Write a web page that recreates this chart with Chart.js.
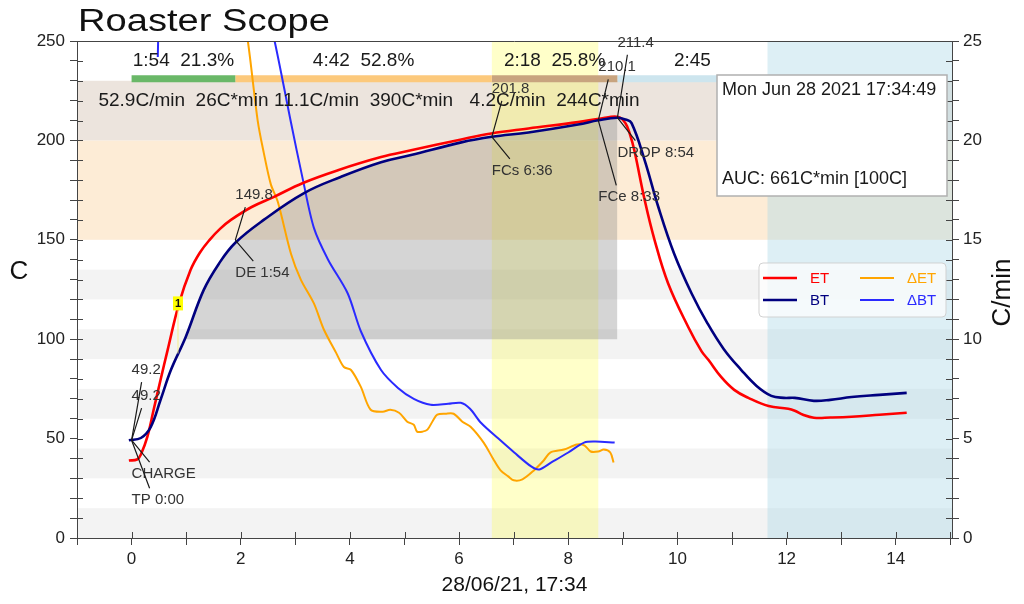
<!DOCTYPE html>
<html>
<head>
<meta charset="utf-8">
<script src="https://cdn.jsdelivr.net/npm/chart.js@4.4.0/dist/chart.umd.min.js"></script>
<style>
  html, body { margin: 0; padding: 0; background: #fff; }
  #wrap { width: 1024px; height: 604px; }
</style>
</head>
<body>
<div id="wrap"><canvas id="scope" width="1024" height="604"></canvas></div>
<script>
// roast curves, time in minutes after CHARGE
const etTimes = [-0.05, 0.1, 0.17, 0.29, 0.4, 0.53, 0.66, 0.87, 1.08, 1.25, 1.43, 1.62, 1.82, 2.2, 2.6, 3.14, 3.78, 4.57, 5.12, 6.04, 6.59, 7.27, 8.18, 8.6, 8.92, 9.05, 9.13, 9.21, 9.4, 9.58, 9.83, 10.2, 10.44, 10.57, 10.8, 11.04, 11.3, 11.67, 12.03, 12.15, 12.3, 12.5, 12.8, 13.19, 13.7, 14.2];
const etTemps = [39, 39.5, 42, 51, 64, 79.5, 94.5, 118, 134.8, 143.5, 150, 155.5, 160, 166.5, 171.5, 178.6, 185, 191.6, 195, 200.5, 203.5, 206, 209.2, 211, 211.8, 208.5, 203, 195, 170, 150, 128, 106, 94, 89.5, 81, 74.5, 70.5, 66.4, 65, 64, 62, 60.5, 60.6, 61, 62, 63];

const btTimes = [-0.05, 0.17, 0.35, 0.53, 0.72, 0.99, 1.32, 1.6, 1.9, 2.42, 3.16, 3.83, 4.57, 5.12, 6.04, 6.6, 7.27, 8.18, 8.55, 8.9, 9.05, 9.16, 9.4, 9.65, 9.94, 10.26, 10.55, 10.85, 11.17, 11.45, 11.72, 11.95, 12.15, 12.5, 12.8, 13.19, 13.7, 14.2];
const btTemps = [49.2, 50.3, 55.8, 69.4, 84.5, 101, 124.7, 138, 148.5, 160, 173.5, 181.6, 189, 192.6, 199, 201.8, 204, 208, 210.1, 211.4, 210.5, 208.7, 190, 166.5, 143, 123, 108, 95, 84.5, 76.5, 71.5, 70.5, 70.5, 69, 69.5, 70.9, 72, 73];

const dEtTimes = [0.5, 1.0, 1.6, 2.0, 2.13, 2.31, 2.42, 2.55, 2.68, 2.92, 3.1, 3.34, 3.52, 3.75, 3.89, 4.02, 4.2, 4.38, 4.6, 4.74, 4.9, 5.05, 5.17, 5.23, 5.33, 5.42, 5.52, 5.6, 5.75, 5.9, 6.06, 6.21, 6.45, 6.62, 6.76, 6.9, 7.0, 7.16, 7.37, 7.55, 7.67, 7.92, 8.16, 8.3, 8.41, 8.55, 8.65, 8.77, 8.83];
const dEtValues = [40, 45, 33, 27, 25, 21, 19.4, 17.8, 16.9, 14.3, 13, 11.8, 10.5, 9.3, 8.6, 8.45, 7.6, 6.45, 6.35, 6.45, 6.3, 5.85, 5.7, 5.35, 5.35, 5.45, 5.9, 6.2, 6.25, 6.25, 5.85, 5.6, 4.8, 4.0, 3.4, 3.1, 2.9, 2.95, 3.4, 3.9, 4.3, 4.45, 4.7, 4.65, 4.35, 4.35, 4.45, 4.3, 3.8];

const dBtTimes = [0.48, 0.53, 0.8, 1.4, 2.2, 2.62, 2.92, 3.14, 3.34, 3.6, 3.96, 4.2, 4.57, 4.88, 5.17, 5.48, 5.8, 6.03, 6.2, 6.4, 6.72, 7.01, 7.32, 7.47, 7.69, 8.0, 8.29, 8.5, 8.85];
const dBtValues = [24.2, 30, 50, 45, 30, 25, 20.9, 18, 15.6, 14, 12.3, 10.4, 8.45, 7.55, 7.0, 6.7, 6.75, 6.8, 6.5, 5.8, 5.0, 4.3, 3.6, 3.45, 3.8, 4.3, 4.8, 4.85, 4.8];

// roast events
const eventLabels = ['CHARGE', 'TP 0:00', 'DE 1:54', 'FCs 6:36', 'FCe 8:33', 'DROP 8:54'];
const eventTimes = [0, 0, 1.9, 6.6, 8.55, 8.9];
const eventTemps = [49.2, 49.2, 149.8, 201.8, 210.1, 211.4];

const specialEventLabels = ['1'];
const specialEventTimes = [0.85];
const specialEventTemps = [118];

// phases: drying, maillard, development, cooling
const phaseStarts = [0, 1.9, 6.6, 8.9];
const phaseEnds = [1.9, 6.6, 8.9, 11.65];
const phaseTimeLabels = ['1:54  21.3%', '4:42  52.8%', '2:18  25.8%', '2:45'];
const phaseRateLabels = ['52.9C/min  26C*min', '11.1C/min  390C*min', '4.2C/min  244C*min', ''];

const fcWindow = [6.6, 8.55];
const coolStart = 11.65;
const tempBands = [[0, 15], [30, 45], [60, 75], [90, 105], [120, 135]];
const maillardZone = [150, 200];
const finishZone = [200, 230];
const aucBase = 100;

const roastDate = 'Mon Jun 28 2021 17:34:49';
const aucText = 'AUC: 661C*min [100C]';

// ---- styling ----
const FONT = '"Liberation Sans", Arial, sans-serif';
const BAR_LEVEL = 231;
const TOP_LABEL_LEVEL = 240;
const RATE_LABEL_LEVEL = 220;
const phaseColors = ['#6ab868', '#fcc97c', '#c8a47f', '#cde5ee'];
// pixel offsets of [temperature label, event label] from each event point
const annoOffsets = [[-44, 34], [-70, 60], [-45, 33], [-48, 34], [-53, 77], [-75, 35]];

Chart.defaults.font.family = FONT;
Chart.defaults.font.size = 17;
Chart.defaults.color = '#222';

const pts = (xs, ys) => xs.map((x, i) => ({ x, y: ys[i] }));
const btPts = pts(btTimes, btTemps);
const aucStart = btTimes[btTemps.findIndex(v => v >= aucBase)];
const dropTime = eventTimes[5];
const aucPts = btPts.filter(p => p.x >= aucStart && p.x <= dropTime);

const curve = (label, data, color, width, axis, order, tension) => ({
  label, data, borderColor: color, backgroundColor: color, borderWidth: width,
  pointRadius: 0, tension, yAxisID: axis, order, clip: 0, fill: false, isCurve: true
});

const datasets = [
  curve('ET', pts(etTimes, etTemps), '#ff0000', 2.6, 'y', 1, 0.4),
  curve('BT', btPts, '#00007f', 2.6, 'y', 0, 0.4),
  curve('\u0394ET', pts(dEtTimes, dEtValues), '#ffa500', 2, 'y2', 3, 0.3),
  curve('\u0394BT', pts(dBtTimes, dBtValues), '#2a2aff', 2, 'y2', 2, 0.3),
  {
    label: 'AUC', data: aucPts, borderWidth: 0, pointRadius: 0, yAxisID: 'y',
    tension: 0.4, fill: { value: aucBase },
    backgroundColor: 'rgba(128,128,128,0.33)', order: 6
  }
];
phaseStarts.forEach((s, i) => {
  datasets.push({
    label: 'phase' + i,
    data: [{ x: s, y: BAR_LEVEL }, { x: phaseEnds[i], y: BAR_LEVEL }],
    borderColor: phaseColors[i], borderWidth: 7, borderCapStyle: 'butt',
    pointRadius: 0, yAxisID: 'y', order: 5, fill: false
  });
});

const backdrop = {
  id: 'backdrop',
  beforeDraw(chart) {
    const { ctx, chartArea: a } = chart;
    const x = chart.scales.x, y = chart.scales.y;
    const band = (lo, hi) => {
      const top = y.getPixelForValue(hi);
      ctx.fillRect(a.left, top, a.width, y.getPixelForValue(lo) - top);
    };
    ctx.save();
    ctx.fillStyle = '#f3f3f3';
    tempBands.forEach(([lo, hi]) => band(lo, hi));
    ctx.fillStyle = '#fdecd6';
    band(maillardZone[0], maillardZone[1]);
    ctx.fillStyle = '#ece4dd';
    band(finishZone[0], finishZone[1]);
    ctx.fillStyle = 'rgba(255,255,60,0.28)';
    const f0 = x.getPixelForValue(fcWindow[0]), f1 = x.getPixelForValue(fcWindow[1]);
    ctx.fillRect(f0, a.top, f1 - f0, a.height);
    ctx.fillStyle = 'rgba(173,216,230,0.42)';
    const c0 = x.getPixelForValue(coolStart);
    ctx.fillRect(c0, a.top, a.right - c0, a.height);
    ctx.restore();
  }
};

const overlay = {
  id: 'overlay',
  afterDraw(chart) {
    const { ctx, chartArea: a } = chart;
    const x = chart.scales.x, y = chart.scales.y, y2 = chart.scales.y2;
    ctx.save();

    // inward half of the tick marks and the top frame line
    ctx.strokeStyle = '#444';
    ctx.lineWidth = 1;
    ctx.beginPath();
    x.ticks.forEach(t => { const p = Math.round(x.getPixelForValue(t.value)) + 0.5; ctx.moveTo(p, a.bottom); ctx.lineTo(p, a.bottom - 6); });
    y.ticks.forEach(t => { const p = Math.round(y.getPixelForValue(t.value)) + 0.5; ctx.moveTo(a.left, p); ctx.lineTo(a.left + 6, p); });
    y2.ticks.forEach(t => { const p = Math.round(y2.getPixelForValue(t.value)) + 0.5; ctx.moveTo(a.right, p); ctx.lineTo(a.right - 6, p); });
    ctx.moveTo(a.left, Math.round(a.top) + 0.5);
    ctx.lineTo(a.right, Math.round(a.top) + 0.5);
    ctx.stroke();

    // phase texts
    ctx.fillStyle = '#1a1a1a';
    ctx.font = '19px ' + FONT;
    ctx.textAlign = 'center';
    ctx.textBaseline = 'middle';
    phaseStarts.forEach((s, i) => {
      const cx = (x.getPixelForValue(s) + x.getPixelForValue(phaseEnds[i])) / 2;
      ctx.fillText(phaseTimeLabels[i], cx, y.getPixelForValue(TOP_LABEL_LEVEL));
      if (phaseRateLabels[i]) ctx.fillText(phaseRateLabels[i], cx, y.getPixelForValue(RATE_LABEL_LEVEL));
    });

    // event annotations
    ctx.textAlign = 'left';
    ctx.font = '15px ' + FONT;
    ctx.strokeStyle = '#1a1a1a';
    ctx.lineWidth = 1.2;
    eventTimes.forEach((tm, i) => {
      const px = x.getPixelForValue(tm), py = y.getPixelForValue(eventTemps[i]);
      const [td, ed] = annoOffsets[i];
      ctx.beginPath();
      ctx.moveTo(px, py); ctx.lineTo(px + 10, py + td + 12);
      ctx.moveTo(px, py); ctx.lineTo(px + 18, py + ed - 12);
      ctx.stroke();
      ctx.fillStyle = '#333';
      ctx.fillText(eventTemps[i].toFixed(1), px, py + td);
      ctx.fillText(eventLabels[i], px, py + ed);
    });

    // special event markers
    specialEventTimes.forEach((tm, i) => {
      const px = x.getPixelForValue(tm), py = y.getPixelForValue(specialEventTemps[i]);
      ctx.strokeStyle = 'rgba(250,240,120,0.7)';
      ctx.beginPath(); ctx.moveTo(px, py + 7); ctx.lineTo(px, py + 50); ctx.stroke();
      ctx.fillStyle = '#ffff00';
      ctx.fillRect(px - 5, py - 7, 10, 14);
      ctx.fillStyle = '#111';
      ctx.font = 'bold 11px ' + FONT;
      ctx.textAlign = 'center';
      ctx.fillText(specialEventLabels[i], px, py + 1);
    });

    // info box
    const bx = a.right - 235, by = a.top + 34;
    ctx.fillStyle = '#fff';
    ctx.fillRect(bx, by, 230, 121);
    ctx.strokeStyle = '#b0b0b0';
    ctx.lineWidth = 1.5;
    ctx.strokeRect(bx, by, 230, 121);
    ctx.fillStyle = '#1a1a1a';
    ctx.font = '18px ' + FONT;
    ctx.textAlign = 'left';
    ctx.fillText(roastDate, bx + 5, by + 15);
    ctx.fillText(aucText, bx + 5, by + 104);

    // legend
    const lx = a.right - 193, ly = a.top + 222;
    ctx.fillStyle = 'rgba(255,255,255,0.72)';
    ctx.strokeStyle = 'rgba(205,205,205,0.9)';
    ctx.lineWidth = 1;
    ctx.beginPath();
    ctx.roundRect(lx, ly, 187, 54, 4);
    ctx.fill(); ctx.stroke();
    ctx.font = '15px ' + FONT;
    chart.data.datasets.filter(d => d.isCurve).forEach((d, i) => {
      const col = Math.floor(i / 2), row = i % 2;
      const sx = lx + 4 + col * 97, sy = ly + 15 + row * 22;
      ctx.strokeStyle = d.borderColor;
      ctx.lineWidth = d.borderWidth;
      ctx.beginPath(); ctx.moveTo(sx, sy); ctx.lineTo(sx + 34, sy); ctx.stroke();
      ctx.fillStyle = d.borderColor;
      ctx.fillText(d.label, sx + 47, sy + 1);
    });

    // axis titles
    ctx.fillStyle = '#111';
    ctx.font = '26px ' + FONT;
    ctx.textAlign = 'center';
    ctx.fillText('C', 19, a.top + 231);
    ctx.save();
    ctx.translate(1003, (a.top + a.bottom) / 2 + 3);
    ctx.rotate(-Math.PI / 2);
    ctx.fillText('C/min', 0, 0);
    ctx.restore();

    // chart title
    ctx.font = '31px ' + FONT;
    ctx.textAlign = 'left';
    ctx.textBaseline = 'alphabetic';
    const title = 'Roaster Scope';
    const w = ctx.measureText(title).width;
    ctx.translate(a.left + 1, 31);
    ctx.scale(252 / w, 1);
    ctx.fillText(title, 0, 0);
    ctx.restore();
  }
};

const axisGrid = { drawOnChartArea: false, tickLength: 7, color: '#444' };

new Chart(document.getElementById('scope'), {
  type: 'line',
  data: { datasets },
  options: {
    responsive: false,
    animation: false,
    events: [],
    layout: { padding: { top: 41, left: 0, right: 0, bottom: 0 } },
    plugins: { legend: { display: false }, title: { display: false }, tooltip: { enabled: false } },
    scales: {
      x: {
        type: 'linear', min: -1, max: 15.03,
        ticks: { stepSize: 1, includeBounds: false, autoSkip: false, maxRotation: 0, padding: 4,
                 callback: v => (v % 2 === 0 ? v : '') },
        grid: axisGrid,
        border: { color: '#444' },
        title: { display: true, text: '28/06/21, 17:34', font: { size: 21 }, color: '#111', padding: { top: 0, bottom: 6 } },
        afterFit: s => { s.height = 66; }
      },
      y: {
        position: 'left', min: 0, max: 250,
        ticks: { stepSize: 10, autoSkip: false, padding: 5, callback: v => (v % 50 === 0 ? v : '') },
        grid: axisGrid,
        border: { color: '#444' },
        afterFit: s => { s.width = 77; }
      },
      y2: {
        position: 'right', min: 0, max: 25,
        ticks: { stepSize: 1, autoSkip: false, padding: 4, callback: v => (v % 5 === 0 ? v : '') },
        grid: axisGrid,
        border: { color: '#444' },
        afterFit: s => { s.width = 72; }
      }
    }
  },
  plugins: [backdrop, overlay]
});
</script>
</body>
</html>
